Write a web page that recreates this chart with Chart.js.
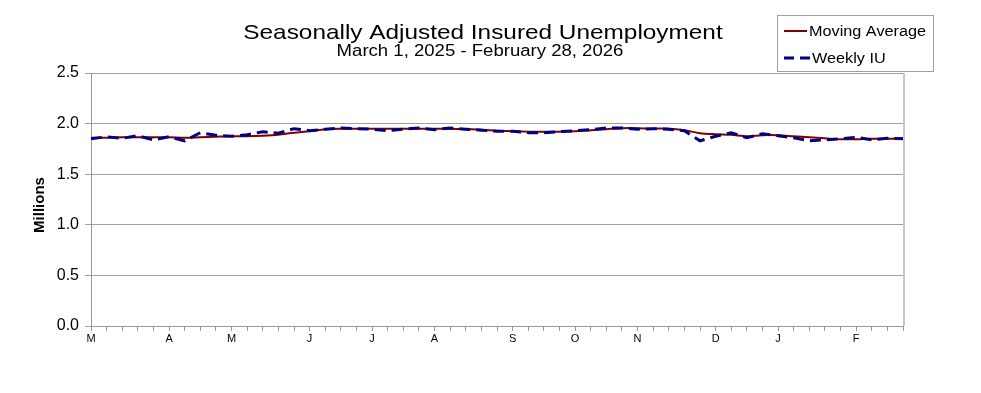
<!DOCTYPE html>
<html>
<head>
<meta charset="utf-8">
<script src="https://cdn.jsdelivr.net/npm/chart.js@4"></script>
<style>
  html, body { margin: 0; padding: 0; background: #fff; }
  #wrap { width: 981px; height: 393px; }
</style>
</head>
<body>
<div id="wrap"><canvas id="chart1" width="981" height="393"></canvas></div>
<script>
// week labels: month letter on the first week of each month, blank otherwise
const weekLabels = ["M","","","","","A","","","","M","","","","","J","","","","J","","","","A","","","","","S","","","","O","","","","N","","","","","D","","","","J","","","","","F","","",""];
const weeklyIU = [1.85,1.87,1.855,1.88,1.84,1.87,1.83,1.91,1.885,1.875,
  1.89,1.92,1.905,1.95,1.93,1.945,1.957,1.95,1.945,1.93,
  1.945,1.957,1.94,1.957,1.945,1.935,1.925,1.925,1.91,1.91,
  1.92,1.93,1.94,1.957,1.957,1.945,1.95,1.945,1.93,1.83,
  1.875,1.91,1.86,1.90,1.88,1.86,1.83,1.84,1.85,1.865,
  1.84,1.855,1.85];
const movingAvg = [1.86,1.86,1.865,1.865,1.865,1.865,1.86,1.865,1.87,1.875,
  1.875,1.88,1.89,1.91,1.925,1.945,1.95,1.95,1.95,1.95,
  1.95,1.95,1.95,1.95,1.945,1.94,1.93,1.925,1.92,1.92,
  1.92,1.925,1.935,1.945,1.955,1.955,1.95,1.95,1.935,1.905,
  1.895,1.89,1.875,1.885,1.885,1.875,1.865,1.855,1.845,1.845,
  1.85,1.85,1.855];
const yTicks = [0, 0.5, 1.0, 1.5, 2.0, 2.5];

const FONT = "'Liberation Sans', Arial, sans-serif";
const STRETCH = 1.16; // the original text is a bit wider than Arial

function wideText(ctx, txt, x, y, align) {
  ctx.save();
  ctx.translate(x, y);
  ctx.scale(STRETCH, 1);
  ctx.textAlign = align;
  ctx.fillText(txt, 0, 0);
  ctx.restore();
}

// titles, y title and the boxed legend drawn on top
const decor = {
  id: 'decor',
  afterDraw(chart) {
    const ctx = chart.ctx;
    ctx.save();
    ctx.fillStyle = '#000';
    ctx.textBaseline = 'alphabetic';
    ctx.font = '21px ' + FONT;
    wideText(ctx, 'Seasonally Adjusted Insured Unemployment', 483, 39, 'center');
    ctx.font = '16px ' + FONT;
    wideText(ctx, 'March 1, 2025 - February 28, 2026', 480, 56, 'center');

    ctx.save();
    ctx.translate(44, 205);
    ctx.rotate(-Math.PI / 2);
    ctx.font = 'bold 15px ' + FONT;
    ctx.textAlign = 'center';
    ctx.fillText('Millions', 0, 0);
    ctx.restore();

    // legend box
    ctx.strokeStyle = '#a0a0a0';
    ctx.lineWidth = 1;
    ctx.strokeRect(777.5, 15.5, 156, 56);
    const ds = chart.data.datasets;
    ctx.font = '14px ' + FONT;
    ctx.lineWidth = 2;
    ctx.strokeStyle = ds[1].borderColor;
    ctx.beginPath(); ctx.moveTo(784, 31); ctx.lineTo(807, 31); ctx.stroke();
    wideText(ctx, ds[1].label, 809, 36, 'left');
    ctx.lineWidth = 3;
    ctx.strokeStyle = ds[0].borderColor;
    ctx.setLineDash([10, 6]);
    ctx.beginPath(); ctx.moveTo(784, 58); ctx.lineTo(810, 58); ctx.stroke();
    ctx.setLineDash([]);
    wideText(ctx, ds[0].label, 812, 63, 'left');
    ctx.restore();
  }
};

new Chart(document.getElementById("chart1"), {
  type: 'line',
  data: {
    labels: weekLabels,
    datasets: [
      {
        label: 'Weekly IU',
        data: weeklyIU,
        borderColor: '#000080',
        borderWidth: 3,
        borderDash: [11, 6],
        pointRadius: 0,
        tension: 0,
        order: 0
      },
      {
        label: 'Moving Average',
        data: movingAvg,
        borderColor: '#800000',
        borderWidth: 2,
        pointRadius: 0,
        tension: 0.3,
        order: 1
      }
    ]
  },
  options: {
    responsive: false,
    animation: false,
    layout: { padding: { left: 0, right: 78, top: 73, bottom: 47 } },
    plugins: {
      legend: { display: false },
      title: { display: false },
      tooltip: { enabled: false }
    },
    scales: {
      x: {
        offset: false,
        grid: { display: true, drawOnChartArea: false, drawTicks: true, tickLength: 5, color: '#999' },
        border: { color: '#999' },
        ticks: {
          autoSkip: false, maxRotation: 0, minRotation: 0, padding: 1,
          color: '#000', font: { family: FONT, size: 11 }
        },
        afterFit(scale) { scale.height = 20; }
      },
      y: {
        min: 0, max: 2.5,
        afterBuildTicks(scale) { scale.ticks = yTicks.map(v => ({ value: v })); },
        grid: { color: '#a0a0a0', tickLength: 6 },
        border: { color: '#999' },
        ticks: {
          padding: 6, color: '#000',
          font: { family: FONT, size: 16 },
          callback: v => v.toFixed(1)
        },
        afterFit(scale) { scale.width = 91; }
      }
    }
  },
  plugins: [decor, {
    id: 'rightEdge',
    afterDatasetsDraw(chart) {
      const a = chart.chartArea, ctx = chart.ctx;
      ctx.save();
      ctx.strokeStyle = '#c8c8c8';
      ctx.lineWidth = 2;
      ctx.beginPath(); ctx.moveTo(a.right + 1, a.top); ctx.lineTo(a.right + 1, a.bottom); ctx.stroke();
      ctx.restore();
    }
  }]
});
</script>
</body>
</html>
